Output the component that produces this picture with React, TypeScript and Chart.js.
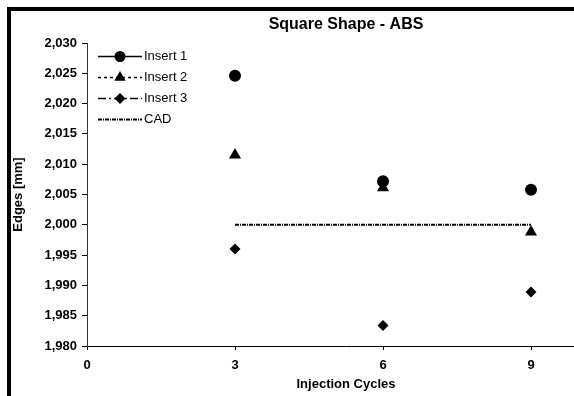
import React, { useEffect, useRef } from "react";
import { Chart, registerables } from "chart.js";

Chart.register(...registerables);

const cycles = [3, 6, 9];
const insert1 = [2.0246, 2.0072, 2.0058];
const insert2 = [2.0115, 2.0061, 1.9988];
const insert3 = [1.996, 1.9834, 1.9889];
const cadCycles = [3, 9];
const cadValues = [2.0, 2.0];
const xTickValues = [0, 3, 6, 9];
const seriesLabels = ["Insert 1", "Insert 2", "Insert 3", "CAD"];
const titleText = "Square Shape - ABS";
const xTitleText = "Injection Cycles";
const yTitleText = "Edges [mm]";

const FONT = "'Liberation Sans', Arial, sans-serif";

const legendDashes: number[][] = [[], [3, 3], [8, 3, 2, 3], [4, 1, 1, 1]];
const legendWidths = [1.5, 1.5, 1.5, 2];
const pointStyles = ["circle", "triangle", "rectRot", ""];

function drawMarker(ctx: CanvasRenderingContext2D, style: string, x: number, y: number) {
  ctx.beginPath();
  if (style === "circle") {
    ctx.arc(x, y, 5.5, 0, Math.PI * 2);
  } else if (style === "triangle") {
    const r = 6.5;
    ctx.moveTo(x, y - r);
    ctx.lineTo(x + r * Math.sin((2 * Math.PI) / 3), y + r / 2);
    ctx.lineTo(x - r * Math.sin((2 * Math.PI) / 3), y + r / 2);
    ctx.closePath();
  } else if (style === "rectRot") {
    const r = 5.5;
    ctx.moveTo(x, y - r);
    ctx.lineTo(x + r, y);
    ctx.lineTo(x, y + r);
    ctx.lineTo(x - r, y);
    ctx.closePath();
  } else {
    return;
  }
  ctx.fillStyle = "#000";
  ctx.fill();
}

const framePlugin = {
  id: "frame",
  beforeDraw(chart: any) {
    const { ctx, width, height } = chart;
    ctx.save();
    ctx.fillStyle = "#fff";
    ctx.fillRect(0, 0, width, height);
    ctx.fillStyle = "#000";
    ctx.fillRect(7, 7, width, 4);
    ctx.fillRect(7, 7, 4, height);
    ctx.restore();
  },
  afterDraw(chart: any) {
    const { ctx, width } = chart;
    ctx.save();
    ctx.fillStyle = "#000";
    ctx.font = `bold 16px ${FONT}`;
    ctx.textAlign = "center";
    ctx.textBaseline = "middle";
    ctx.fillText(titleText, width / 2, 24.5);
    ctx.restore();
  },
};

const legendPlugin = {
  id: "lineLegend",
  afterDraw(chart: any) {
    const { ctx } = chart;
    ctx.save();
    chart.data.datasets.forEach((ds: any, i: number) => {
      const y = 56.5 + i * 21;
      const x0 = 98;
      const x1 = 142;
      ctx.beginPath();
      ctx.setLineDash(legendDashes[i]);
      ctx.lineWidth = legendWidths[i];
      ctx.strokeStyle = "#000";
      ctx.moveTo(x0, y);
      ctx.lineTo(x1, y);
      ctx.stroke();
      ctx.setLineDash([]);
      drawMarker(ctx, pointStyles[i], (x0 + x1) / 2, y);
      ctx.fillStyle = "#000";
      ctx.font = `13px ${FONT}`;
      ctx.textBaseline = "middle";
      ctx.textAlign = "left";
      ctx.fillText(ds.label, 144, y);
    });
    ctx.restore();
  },
};

export default function App() {
  const canvasRef = useRef<HTMLCanvasElement | null>(null);

  useEffect(() => {
    const canvas = canvasRef.current;
    if (!canvas) return;
    const toPts = (xs: number[], ys: number[]) => xs.map((x, i) => ({ x, y: ys[i] }));
    const pointDs = (label: string, ys: number[], style: string, radius: number) => ({
      label,
      data: toPts(cycles, ys),
      showLine: false,
      pointStyle: style,
      pointRadius: radius,
      pointHoverRadius: radius,
      pointBackgroundColor: "#000",
      pointBorderColor: "#000",
      pointBorderWidth: 0,
      borderColor: "#000",
      backgroundColor: "#000",
    });
    const chart = new Chart(canvas, {
      type: "scatter",
      data: {
        datasets: [
          pointDs(seriesLabels[0], insert1, "circle", 6),
          pointDs(seriesLabels[1], insert2, "triangle", 7),
          pointDs(seriesLabels[2], insert3, "rectRot", 5.5),
          {
            label: seriesLabels[3],
            data: toPts(cadCycles, cadValues),
            showLine: true,
            pointRadius: 0,
            pointHoverRadius: 0,
            borderColor: "#000",
            backgroundColor: "#000",
            borderWidth: 2,
            borderDash: [4, 1, 1, 1],
            fill: false,
          } as any,
        ],
      },
      options: {
        responsive: false,
        animation: false,
        devicePixelRatio: 1,
        layout: { padding: { left: 0, top: 43, right: 87, bottom: 0 } },
        plugins: {
          legend: { display: false },
          tooltip: { enabled: false },
          title: { display: false },
        },
        scales: {
          x: {
            type: "linear",
            min: 0,
            max: 10.5,
            afterBuildTicks: (scale: any) => {
              scale.ticks = xTickValues.map((v) => ({ value: v }));
            },
            afterFit: (scale: any) => {
              scale.height = 50;
            },
            grid: {
              drawOnChartArea: false,
              drawTicks: true,
              tickLength: 4,
              color: "#000",
            },
            border: { display: true, color: "#000", width: 1 },
            ticks: {
              color: "#000",
              padding: 8,
              font: { family: FONT, size: 13, weight: "bold" },
              callback: (v: any) => String(v),
            },
            title: {
              display: true,
              text: xTitleText,
              color: "#000",
              font: { family: FONT, size: 13, weight: "bold" },
              padding: { top: 2, bottom: 4 },
            },
          },
          y: {
            type: "linear",
            min: 1.98,
            max: 2.03,
            afterFit: (scale: any) => {
              scale.width = 87;
            },
            grid: {
              drawOnChartArea: false,
              drawTicks: true,
              tickLength: 5,
              color: "#000",
            },
            border: { display: true, color: "#333", width: 1 },
            ticks: {
              stepSize: 0.005,
              color: "#000",
              padding: 5,
              font: { family: FONT, size: 13, weight: "bold" },
              callback: (v: any) => Number(v).toFixed(3).replace(".", ","),
            },
            title: {
              display: true,
              text: yTitleText,
              color: "#000",
              font: { family: FONT, size: 13, weight: "bold" },
              padding: { top: 11, bottom: 0 },
            },
          },
        },
      } as any,
      plugins: [framePlugin, legendPlugin],
    });
    return () => chart.destroy();
  }, []);

  return (
    <div
      style={{
        position: "fixed",
        left: 0,
        top: 0,
        width: 574,
        height: 396,
        overflow: "hidden",
        background: "#fff",
      }}
    >
      <canvas ref={canvasRef} width={692} height={396} style={{ display: "block" }} />
    </div>
  );
}
